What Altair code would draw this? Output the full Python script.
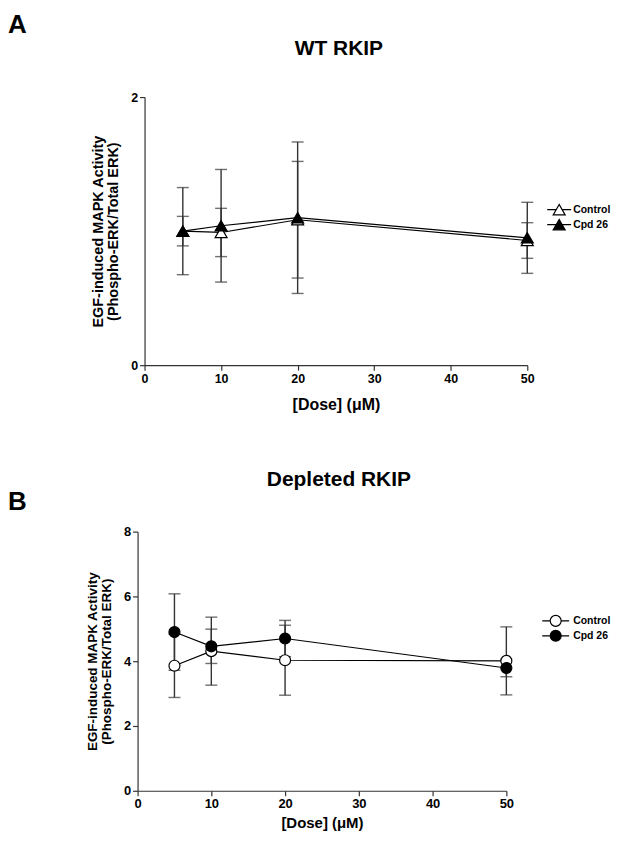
import altair as alt
import pandas as pd

# ---------------- data ----------------
dose = [5, 10, 20, 50]
series = ["Control", "Cpd 26"]

wt_control = [1.00, 0.99, 1.085, 0.93]
wt_control_err = [0.11, 0.18, 0.435, 0.133]
wt_cpd26 = [1.00, 1.04, 1.10, 0.95]
wt_cpd26_err = [0.325, 0.42, 0.565, 0.265]

dep_control = [3.86, 4.31, 4.03, 4.01]
dep_control_err = [0.98, 1.05, 1.08, 1.05]
dep_cpd26 = [4.90, 4.46, 4.70, 3.79]
dep_cpd26_err = [1.18, 0.53, 0.56, 0.27]

x_ticks = [0, 10, 20, 30, 40, 50]
wt_y_ticks = [0, 2]
dep_y_ticks = [0, 2, 4, 6, 8]

y_title = ["EGF-induced MAPK Activity", "(Phospho-ERK/Total ERK)"]
x_title = "[Dose] (\u03bcM)"

FONT = "Liberation Sans"
INK = "#333333"


def frame(ctrl, ctrl_err, cpd, cpd_err):
    rows = []
    for s, vals, errs in ((series[0], ctrl, ctrl_err), (series[1], cpd, cpd_err)):
        for d, v, e in zip(dose, vals, errs):
            rows.append({"dose": d, "series": s, "value": v, "lo": v - e, "hi": v + e})
    return pd.DataFrame(rows)


def label_chart(text, size, tx, ty, align="center", baseline="middle"):
    return alt.Chart(pd.DataFrame({"t": [text]})).mark_text(
        font=FONT, fontSize=size, fontWeight="bold", align=align,
        baseline=baseline, color="black"
    ).encode(text="t:N", x=alt.value(tx), y=alt.value(ty))


def panel(df, ymax, yticks, w, h, xrange, yoff, shape, size, legend_path, legend_size,
          lx, ly, lab_off, title, tx, ty, letter, ltx, lty,
          ytitle_size, xtitle_size, tick_size, ytitle_pad, xtitle_pad):
    xaxis = alt.Axis(values=x_ticks, title=x_title, labelFlush=False,
                     titleFontSize=xtitle_size, labelFontSize=tick_size,
                     titlePadding=xtitle_pad)
    yaxis = alt.Axis(values=yticks, title=y_title, labelFlush=False,
                     titleFontSize=ytitle_size, titleLineHeight=ytitle_size + 0.5,
                     labelFontSize=tick_size, titlePadding=ytitle_pad, offset=yoff)
    if xrange is None:
        xs = alt.Scale(domain=[0, 50], nice=False, zero=False)
    else:
        xs = alt.Scale(domain=[0, 50], nice=False, zero=False, range=xrange)
    ys = alt.Scale(domain=[0, ymax], nice=False)
    X = alt.X("dose:Q", scale=xs, axis=xaxis)

    base = alt.Chart(df)
    bars = base.mark_rule(color=INK, strokeWidth=1.4).encode(
        x=X, y=alt.Y("lo:Q", scale=ys, axis=yaxis), y2="hi:Q")
    cap_lo = base.mark_tick(orient="horizontal", size=12, thickness=1.4, color=INK).encode(
        x=X, y=alt.Y("lo:Q", scale=ys, axis=yaxis))
    cap_hi = base.mark_tick(orient="horizontal", size=12, thickness=1.4, color=INK).encode(
        x=X, y=alt.Y("hi:Q", scale=ys, axis=yaxis))
    lines = base.mark_line(color="black", strokeWidth=1.2).encode(
        x=X, y=alt.Y("value:Q", scale=ys, axis=yaxis), detail="series:N")
    pts = base.mark_point(shape=shape, filled=True, size=size, stroke="black",
                          strokeWidth=1.2, opacity=1).encode(
        x=X, y=alt.Y("value:Q", scale=ys, axis=yaxis),
        fill=alt.Fill("series:N", scale=alt.Scale(domain=series, range=["white", "black"]),
                      legend=alt.Legend(title=None, orient="none", legendX=lx, legendY=ly,
                                        padding=0,
                                        symbolType=legend_path, symbolSize=legend_size,
                                        symbolStrokeColor="black", symbolStrokeWidth=1.2,
                                        labelFont=FONT, labelFontWeight="bold",
                                        labelFontSize=10.5, labelColor="black",
                                        labelOffset=lab_off, rowPadding=-2)))
    t = label_chart(title, 21, tx, ty)
    let = label_chart(letter, 26, ltx, lty, align="left", baseline="top")
    return alt.layer(bars, cap_lo, cap_hi, lines, pts, t, let).properties(width=w, height=h)


tri_path = "M-2,0H-0.5M0.5,0H2M0,-0.866L-1,0.866L1,0.866Z"
circ_path = "M-2.45,0H-1M1,0H2.45M1,0A1,1,0,1,1,-1,0A1,1,0,1,1,1,0Z"

wt = panel(frame(wt_control, wt_control_err, wt_cpd26, wt_cpd26_err), 2, wt_y_ticks,
           384, 269, None, 0, "triangle-up", 144, tri_path, 144,
           409, 106, 7, "WT RKIP", 195, -48, "A", -137, -85,
           14.5, 16, 12.5, 10, 12)

dep = panel(frame(dep_control, dep_control_err, dep_cpd26, dep_cpd26_err), 8, dep_y_ticks,
            363, 260, [-7, 363], 7, "circle", 121, circ_path, 121,
            406, 83, 11, "Depleted RKIP", 195, -52, "B", -137, -43,
            13.5, 15, 13, 10, 5)

chart = alt.concat(wt, dep, columns=1, spacing=56).resolve_scale(
    fill="independent"
).resolve_legend(fill="independent").properties(
    padding={"top": 3, "left": 0, "right": 0, "bottom": 0}
).configure_view(stroke=None).configure_axis(
    grid=False, domainColor=INK, domainWidth=1.2, tickColor=INK, tickWidth=1.2,
    tickSize=5, labelFont=FONT, labelFontWeight="bold", labelColor="black",
    labelPadding=2, titleFont=FONT, titleFontWeight="bold", titleColor="black"
)

chart.save("out.html", embed_options={"renderer": "svg", "actions": False})
